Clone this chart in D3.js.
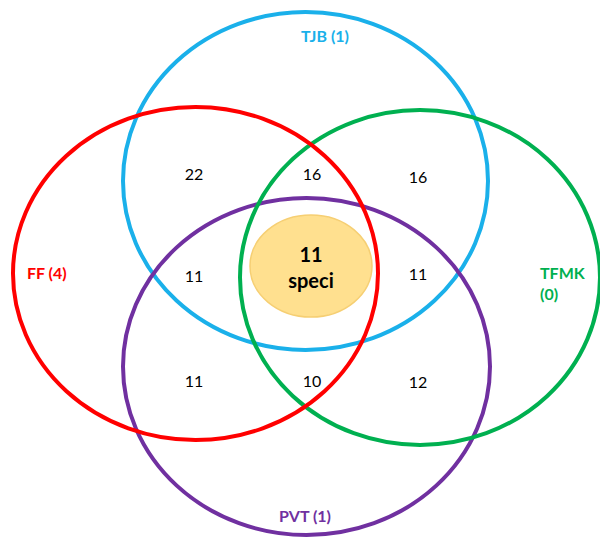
<!DOCTYPE html>
<html>
<head>
<meta charset="utf-8">
<script src="https://cdn.jsdelivr.net/npm/d3@7/dist/d3.min.js"></script>
<style>
  html, body { margin: 0; padding: 0; background: #ffffff; }
  svg { display: block; }
</style>
</head>
<body>
<div id="chart"></div>
<script>
// ---- data ----
const setNames  = ["TJB", "FF", "TFMK", "PVT"];
const setCounts = [1, 4, 0, 1];           // unique species per set (shown in label)
const setColors = ["#1ab0ea", "#ff0000", "#00b050", "#7030a0"];

// region labels (intersections) and values
const regionKeys   = ["TJB∩FF", "TJB∩FF∩TFMK", "TJB∩TFMK", "TJB∩FF∩PVT", "TJB∩TFMK∩PVT", "FF∩PVT", "FF∩TFMK∩PVT", "TFMK∩PVT"];
const regionValues = [22, 16, 16, 11, 11, 11, 10, 12];
const coreValue = 11;
const coreUnit  = "speci";

// ---- layout (in abstract diagram units) ----
const width = 600, height = 540;
const x = d3.scaleLinear().domain([0, 600]).range([0, width]);
const y = d3.scaleLinear().domain([0, 540]).range([0, height]);

const ellipses = [
  { cx: 305.5, cy: 181,   rx: 182.5, ry: 169 },  // TJB
  { cx: 195.5, cy: 273.5, rx: 182.5, ry: 166.5 },// FF
  { cx: 420,   cy: 277.5, rx: 180,   ry: 167.5 },// TFMK
  { cx: 306.5, cy: 366.5, rx: 183.5, ry: 168.5 } // PVT
];
const drawOrder = [0, 3, 2, 1];

const setLabelPos = [
  { x: 325, y: 42,  anchor: "middle" },
  { x: 27,  y: 279, anchor: "start" },
  { x: 540, y: 279, anchor: "start" },
  { x: 305, y: 522, anchor: "middle" }
];
const regionPos = [
  [194, 180], [312, 180], [418, 183],
  [194, 282], [418, 280],
  [194, 387], [312, 387], [418, 388]
];
const core = { cx: 311, cy: 266, rx: 61, ry: 51 };

const svg = d3.select("#chart").append("svg")
  .attr("width", width).attr("height", height);

svg.selectAll("ellipse.set")
  .data(drawOrder.map(i => ({ i, e: ellipses[i] })))
  .join("ellipse")
  .attr("class", "set")
  .attr("cx", d => x(d.e.cx)).attr("cy", d => y(d.e.cy))
  .attr("rx", d => x(d.e.rx) - x(0)).attr("ry", d => y(d.e.ry) - y(0))
  .attr("fill", "none")
  .attr("stroke", d => setColors[d.i])
  .attr("stroke-width", 4);

// core ellipse
svg.append("ellipse")
  .attr("cx", x(core.cx)).attr("cy", y(core.cy))
  .attr("rx", x(core.rx) - x(0)).attr("ry", y(core.ry) - y(0))
  .attr("fill", "#ffe08f")
  .attr("stroke", "#f6cf73")
  .attr("stroke-width", 1.5);

const font = "Lato, 'Open Sans', sans-serif";

// set labels
setNames.forEach((name, i) => {
  const p = setLabelPos[i];
  const t = svg.append("text")
    .attr("x", x(p.x)).attr("y", y(p.y))
    .attr("text-anchor", p.anchor)
    .attr("font-family", font)
    .attr("font-weight", "bold")
    .attr("font-size", 16)
    .attr("fill", setColors[i]);
  if (name === "TFMK") {
    t.text(name);
    svg.append("text")
      .attr("x", x(p.x)).attr("y", y(p.y + 21))
      .attr("text-anchor", p.anchor)
      .attr("font-family", font)
      .attr("font-weight", "bold")
      .attr("font-size", 16)
      .attr("fill", setColors[i])
      .text(`(${setCounts[i]})`);
  } else {
    t.text(`${name} (${setCounts[i]})`);
  }
});

// region numbers
svg.selectAll("text.region")
  .data(regionValues)
  .join("text")
  .attr("class", "region")
  .attr("x", (d, i) => x(regionPos[i][0]))
  .attr("y", (d, i) => y(regionPos[i][1]))
  .attr("text-anchor", "middle")
  .attr("font-family", font)
  .attr("font-size", 16)
  .attr("fill", "#000")
  .text(d => d);

// core text
svg.append("text")
  .attr("x", x(core.cx)).attr("y", y(262))
  .attr("text-anchor", "middle")
  .attr("font-family", font).attr("font-weight", "bold")
  .attr("font-size", 20).attr("fill", "#000")
  .text(coreValue);
svg.append("text")
  .attr("x", x(core.cx)).attr("y", y(288))
  .attr("text-anchor", "middle")
  .attr("font-family", font).attr("font-weight", "bold")
  .attr("font-size", 20).attr("fill", "#000")
  .text(coreUnit);
</script>
</body>
</html>
